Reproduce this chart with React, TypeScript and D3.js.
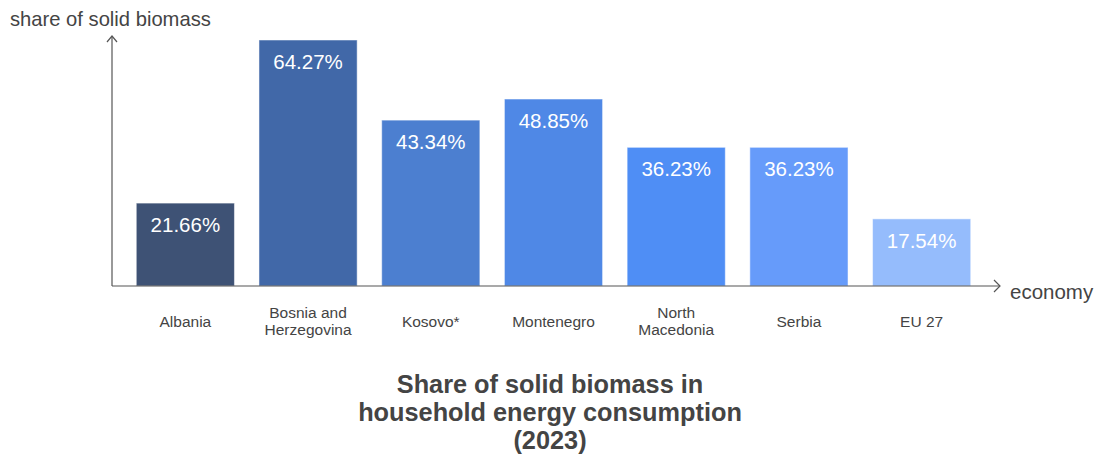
import React from "react";
import * as d3 from "d3";

const categories: string[][] = [
  ["Albania"],
  ["Bosnia and", "Herzegovina"],
  ["Kosovo*"],
  ["Montenegro"],
  ["North", "Macedonia"],
  ["Serbia"],
  ["EU 27"],
];
const values: number[] = [21.66, 64.27, 43.34, 48.85, 36.23, 36.23, 17.54];
const colors: string[] = ["#3e5275", "#4168a8", "#4c7fd0", "#4f88e6", "#4f8ef5", "#669bfa", "#95bcfc"];
const titleLines: string[] = ["Share of solid biomass in", "household energy consumption", "(2023)"];

const W = 1096;
const H = 459;
const FONT = "'Liberation Sans', Arial, sans-serif";

export default function App() {
  const keys = categories.map((c) => c.join(" "));
  const x = d3.scaleBand<string>().domain(keys).range([124, 983]).paddingInner(0.2).paddingOuter(0.1);
  const y = d3.scaleLinear().domain([0, 64.27]).range([286, 40]);
  const x0 = 112;
  const y0 = 286;
  const axisColor = "#555";
  return (
    <svg width={W} height={H} style={{ position: "absolute", left: 0, top: 0, fontFamily: FONT }}>
      <rect width={W} height={H} fill="#fff" />
      {values.map((v, i) => {
        const k = keys[i];
        const bx = x(k)!;
        const bw = x.bandwidth();
        const by = y(v);
        return (
          <g key={k}>
            <rect x={bx} y={by} width={bw} height={y0 - by} fill={colors[i]} stroke="#ffffff" strokeOpacity={0.5} strokeWidth={1} />
            <text x={bx + bw / 2} y={by + 29} textAnchor="middle" fill="#fff" fontSize={20.5}>
              {v.toFixed(2)}%
            </text>
          </g>
        );
      })}
      {/* axes */}
      <line x1={x0} y1={y0} x2={1000} y2={y0} stroke={axisColor} strokeWidth={1.2} />
      <path d={`M994,${y0 - 6} L1000,${y0} L994,${y0 + 6}`} fill="none" stroke={axisColor} strokeWidth={1.2} />
      <line x1={x0} y1={y0} x2={x0} y2={36} stroke={axisColor} strokeWidth={1.2} />
      <path d={`M${x0 - 5},42 L${x0},36 L${x0 + 5},42`} fill="none" stroke={axisColor} strokeWidth={1.2} />
      <text x={10} y={26} fontSize={20.2} fill="#444">share of solid biomass</text>
      <text x={1010} y={299} fontSize={20.5} fill="#444">economy</text>
      {categories.map((lines, i) => {
        const cx = x(keys[i])! + x.bandwidth() / 2;
        const startY = lines.length === 1 ? 327 : 318;
        return (
          <text key={keys[i]} x={cx} textAnchor="middle" fontSize={15.5} fill="#444">
            {lines.map((l, j) => (
              <tspan key={j} x={cx} y={startY + j * 16.5}>{l}</tspan>
            ))}
          </text>
        );
      })}
      <text textAnchor="middle" fontSize={25.3} fontWeight="bold" fill="#444">
        {titleLines.map((l, j) => (
          <tspan key={j} x={550} y={393 + j * 28}>{l}</tspan>
        ))}
      </text>
    </svg>
  );
}
